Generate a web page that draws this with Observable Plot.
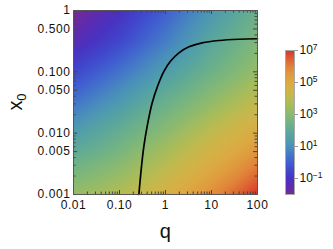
<!DOCTYPE html>
<html>
<head>
<meta charset="utf-8">
<script src="https://cdn.jsdelivr.net/npm/d3@7"></script>
<script src="https://cdn.jsdelivr.net/npm/@observablehq/plot@0.6"></script>
<style>
  html, body { margin: 0; padding: 0; background: #fff; }
  #wrap { position: relative; width: 333px; height: 249px; }
  #wrap svg { position: absolute; left: 0; top: 0; }
</style>
</head>
<body>
<div id="wrap"></div>
<script>
// ---- data ----
// grid sample positions
const qGrid = [0.01, 0.1, 1, 10, 100];
const x0Grid = [1, 0.316, 0.1, 0.0316, 0.01, 0.00316, 0.001];
// log10 of the plotted quantity at each grid point (rows follow x0Grid)
const logValRow1 = [-2.1, -1.1, 0.0, 1.2, 2.3];
const logValRow2 = [-1.4, -0.5, 0.6, 1.8, 2.8];
const logValRow3 = [-0.5, 0.4, 1.4, 2.4, 3.3];
const logValRow4 = [0.4, 1.3, 2.3, 3.2, 4.1];
const logValRow5 = [1.4, 2.2, 3.1, 4.1, 5.0];
const logValRow6 = [2.4, 3.0, 3.9, 4.9, 6.0];
const logValRow7 = [3.3, 3.8, 4.7, 5.8, 7.0];
const logValRows = [logValRow1, logValRow2, logValRow3, logValRow4, logValRow5, logValRow6, logValRow7];

// black curve
const curveQ  = [0.264, 0.296, 0.339, 0.400, 0.514, 0.694, 0.923, 1.28, 1.96, 3.23, 6.28, 14.5, 39.4, 100];
const curveX0 = [0.001, 0.00255, 0.00613, 0.0130, 0.0313, 0.0621, 0.102, 0.149, 0.204, 0.256, 0.297, 0.324, 0.340, 0.346];

// ticks
const xTickValues = [0.01, 0.1, 1, 10, 100];
const xTickLabels = ["0.01", "0.10", "1", "10", "100"];
const yTickValues = [0.001, 0.005, 0.01, 0.05, 0.1, 0.5, 1];
const yTickLabels = ["0.001", "0.005", "0.010", "0.050", "0.100", "0.500", "1"];
const cbTickValues = [1e-1, 1e1, 1e3, 1e5, 1e7];
const cbTickExponents = ["\u22121", "1", "3", "5", "7"];
const xLabel = "q";
const yLabelMain = "x";
const yLabelSub = "0";

// colour map (log10 value -> colour)
const colorDomain = [-2, -1.5, -1, -0.5, 0, 0.5, 1, 1.5, 2, 2.5, 3, 3.5, 4, 4.5, 5, 5.5, 6, 6.5, 7];
const colorRange = ["#732a96", "#5c2bb0", "#4833c2", "#4146cc", "#405ed0", "#4478c8", "#4a90ba", "#52a0a8",
  "#60aa96", "#72b384", "#88b972", "#a2bc5e", "#bcba50", "#d0b448", "#dcaa42", "#e09a3e", "#e0823a", "#dd5e32", "#d8342a"];

// ---- build tables ----
const heat = [];
x0Grid.forEach((x0, i) => qGrid.forEach((q, j) => heat.push({q, x0, L: logValRows[i][j]})));
const curve = curveQ.map((q, i) => ({q, x0: curveX0[i]}));
const yLabelsData = yTickValues.map((v, i) => ({v, label: yTickLabels[i]}));

const decadesX = [0.01, 0.1, 1, 10];
const xMinor = decadesX.flatMap(d => [2,3,4,5,6,7,8,9].map(m => d * m));
const decadesY = [0.001, 0.01, 0.1];
const yMinor = decadesY.flatMap(d => [2,3,4,6,7,8,9].map(m => d * m));

const font = "'Liberation Sans', Arial, Helvetica, sans-serif";
const colorOpts = {type: "linear", domain: colorDomain, range: colorRange, clamp: true};
const inner = 184;
const tickCol = "#444";

const main = Plot.plot({
  width: 333, height: 249,
  marginLeft: 73, marginRight: 76, marginTop: 10, marginBottom: 55,
  style: {fontFamily: font, fontSize: "12px", color: "#111", background: "transparent", overflow: "visible", letterSpacing: "0.6px"},
  x: {type: "log", domain: [0.01, 100]},
  y: {type: "log", domain: [0.001, 1], axis: null},
  color: colorOpts,
  marks: [
    Plot.raster(heat, {x: "q", y: "x0", fill: "L", interpolate: "barycentric",
      x1: 0.01, x2: 100, y1: 0.001, y2: 1, pixelSize: 1}),
    Plot.line(curve, {x: "q", y: "x0", stroke: "#000", strokeWidth: 1.7, curve: "catmull-rom"}),
    // inward ticks on all four sides
    Plot.tickX(xTickValues, {x: d => d, insetTop: inner - 4, stroke: tickCol}),
    Plot.tickX(xTickValues, {x: d => d, insetBottom: inner - 4, stroke: tickCol}),
    Plot.tickX(xMinor, {x: d => d, insetTop: inner - 2.5, stroke: tickCol}),
    Plot.tickX(xMinor, {x: d => d, insetBottom: inner - 2.5, stroke: tickCol}),
    Plot.tickY(yTickValues, {y: d => d, insetRight: inner - 4, stroke: tickCol}),
    Plot.tickY(yTickValues, {y: d => d, insetLeft: inner - 4, stroke: tickCol}),
    Plot.tickY(yMinor, {y: d => d, insetRight: inner - 2.5, stroke: tickCol}),
    Plot.tickY(yMinor, {y: d => d, insetLeft: inner - 2.5, stroke: tickCol}),
    Plot.frame({stroke: "#555", strokeWidth: 1}),
    Plot.axisX({ticks: xTickValues, tickFormat: d => xTickLabels[xTickValues.indexOf(d)],
      tickSize: 0, tickPadding: 6, label: null, fontSize: 12}),
    Plot.text(yLabelsData, {y: "v", text: "label", frameAnchor: "left", textAnchor: "end",
      dx: -3, fontSize: 12, fill: "#111"})
  ]
});

const cb = Plot.plot({
  width: 333, height: 249,
  marginLeft: 285, marginRight: 39, marginTop: 50, marginBottom: 55,
  style: {fontFamily: font, fontSize: "12px", color: "#111", background: "transparent", overflow: "visible"},
  x: {domain: [0, 1], axis: null},
  y: {type: "log", domain: [0.01, 1e7]},
  color: colorOpts,
  marks: [
    Plot.raster({x1: 0, x2: 1, y1: 0.01, y2: 1e7, fill: (x, y) => Math.log10(y), pixelSize: 1}),
    Plot.frame({stroke: "#aaa"}),
    Plot.axisY({anchor: "right", ticks: cbTickValues,
      tickFormat: d => "10^" + cbTickExponents[cbTickValues.indexOf(d)],
      tickSize: 3, tickPadding: 2, stroke: "#999", label: null, fontSize: 12})
  ]
});

const wrap = document.getElementById("wrap");
wrap.appendChild(main);
wrap.appendChild(cb);

// superscripts on the colour bar labels
d3.select(cb).selectAll('g[aria-label="y-axis tick label"] text').each(function () {
  const t = this.textContent;
  const exp = t.split("^")[1];
  const sel = d3.select(this);
  sel.text(null);
  sel.append("tspan").text("10");
  sel.append("tspan").attr("dy", "-0.5em").attr("font-size", "8.5px").text(exp);
});

// axis titles
const ms = d3.select(main);
ms.append("text")
  .attr("x", 165.3).attr("y", 238)
  .attr("text-anchor", "middle")
  .attr("font-family", font).attr("font-size", 20).attr("fill", "#111")
  .attr("letter-spacing", "0")
  .text(xLabel);
const yl = ms.append("text")
  .attr("transform", "translate(22,102) rotate(-90)")
  .attr("text-anchor", "middle")
  .attr("font-family", font).attr("font-size", 20).attr("fill", "#111")
  .attr("letter-spacing", "0");
yl.append("tspan").text(yLabelMain);
yl.append("tspan").attr("dy", "0.3em").attr("font-size", 13).text(yLabelSub);
</script>
</body>
</html>
